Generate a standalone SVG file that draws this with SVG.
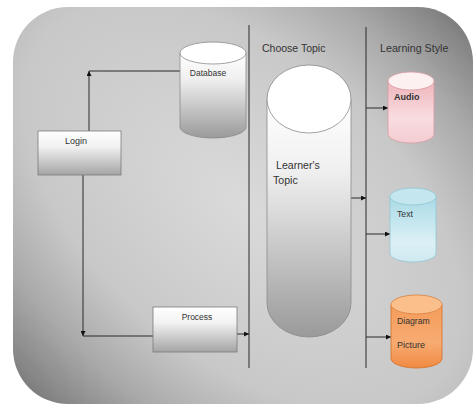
<svg xmlns="http://www.w3.org/2000/svg" width="475" height="406" viewBox="0 0 475 406">
  <defs>
    <radialGradient id="bg" gradientUnits="userSpaceOnUse" cx="0" cy="0" r="1" gradientTransform="translate(243 205) rotate(41) scale(520 300)">
      <stop offset="0" stop-color="#dadada"/>
      <stop offset="0.5" stop-color="#c8c8c8"/>
      <stop offset="0.72" stop-color="#a9a9a9"/>
      <stop offset="0.9" stop-color="#858585"/>
      <stop offset="1" stop-color="#6c6c6c"/>
    </radialGradient>
    <linearGradient id="box" x1="0" y1="0" x2="0" y2="1">
      <stop offset="0" stop-color="#ffffff"/>
      <stop offset="0.35" stop-color="#f2f2f2"/>
      <stop offset="1" stop-color="#a4a4a4"/>
    </linearGradient>
    <linearGradient id="gray" x1="0" y1="0" x2="0" y2="1">
      <stop offset="0" stop-color="#ffffff"/>
      <stop offset="0.3" stop-color="#f0f0f0"/>
      <stop offset="1" stop-color="#9a9a9a"/>
    </linearGradient>
    <linearGradient id="pink" x1="0" y1="0" x2="0" y2="1">
      <stop offset="0" stop-color="#eeb4bb"/>
      <stop offset="0.6" stop-color="#f8dde0"/>
      <stop offset="1" stop-color="#f3ccd0"/>
    </linearGradient>
    <linearGradient id="blue" x1="0" y1="0" x2="0" y2="1">
      <stop offset="0" stop-color="#a8dae6"/>
      <stop offset="0.7" stop-color="#dcf0f5"/>
      <stop offset="1" stop-color="#cfe9f0"/>
    </linearGradient>
    <linearGradient id="orange" x1="0" y1="0" x2="0" y2="1">
      <stop offset="0" stop-color="#f59c5a"/>
      <stop offset="0.6" stop-color="#f7ab72"/>
      <stop offset="1" stop-color="#f08a42"/>
    </linearGradient>
    <marker id="arr" viewBox="0 0 6 6" refX="6" refY="3" markerWidth="6" markerHeight="5" markerUnits="userSpaceOnUse" orient="auto">
      <path d="M0,0 L6,3 L0,6 Z" fill="#111"/>
    </marker>
    <style>
      .ln { stroke: #2a2a2a; stroke-width: 1; fill: none; }
      .head { font-family: "Liberation Sans", Arial, sans-serif; fill: #333; }
      .lbl { font-family: "Liberation Sans", Arial, sans-serif; fill: #333; }
      .boxs { stroke: #7a7a7a; stroke-width: 0.8; }
    </style>
  </defs>

  <rect x="13" y="7" width="460" height="397" rx="55" ry="55" fill="url(#bg)"/>

  <g id="headings">
    <text class="head" x="262" y="52" font-size="10.5">Choose Topic</text>
    <text class="head" x="380" y="52" font-size="10.7">Learning Style</text>
  </g>

  <g id="connectors">
    <line class="ln" x1="249" y1="25" x2="249" y2="368"/>
    <line class="ln" x1="366" y1="27" x2="366" y2="368"/>
    <path class="ln" d="M89,131 V71" marker-end="url(#arr)"/>
    <path class="ln" d="M89,71 H180"/>
    <path class="ln" d="M83,175 V336" marker-end="url(#arr)"/>
    <path class="ln" d="M83,336 H153"/>
    <path class="ln" d="M237,334 H249" marker-end="url(#arr)"/>
    <path class="ln" d="M351,198 H366" marker-end="url(#arr)"/>
    <path class="ln" d="M366,108 H388" marker-end="url(#arr)"/>
    <path class="ln" d="M366,234 H390" marker-end="url(#arr)"/>
    <path class="ln" d="M366,337 H391" marker-end="url(#arr)"/>
  </g>

  <g id="database">
    <path d="M180,53 V127 A33,11 0 0 0 246,127 V53 Z" fill="url(#gray)" stroke="#8a8a8a" stroke-width="0.8"/>
    <ellipse cx="213" cy="53" rx="33" ry="11" fill="#ffffff" stroke="#8a8a8a" stroke-width="0.8"/>
    <text class="lbl" x="208" y="76" font-size="8.5" text-anchor="middle">Database</text>
  </g>

  <g id="login">
    <rect x="38" y="131" width="83" height="44" fill="url(#box)" class="boxs"/>
    <text class="lbl" x="76" y="144" font-size="9" text-anchor="middle">Login</text>
  </g>

  <g id="process">
    <rect x="153" y="307" width="84" height="45" fill="url(#box)" class="boxs"/>
    <text class="lbl" x="197" y="320" font-size="8.5" text-anchor="middle">Process</text>
  </g>

  <g id="learners-topic">
    <path d="M267,99 V303 A42,34 0 0 0 351,303 V99 Z" fill="url(#gray)" stroke="#8a8a8a" stroke-width="0.8"/>
    <ellipse cx="309" cy="99" rx="42" ry="34" fill="#ffffff" stroke="#8a8a8a" stroke-width="0.8"/>
    <text class="lbl" x="276" y="169" font-size="10.6">Learner's</text>
    <text class="lbl" x="273" y="184" font-size="10.6">Topic</text>
  </g>

  <g id="audio">
    <path d="M388,81 V134 A23,9 0 0 0 434,134 V81 Z" fill="url(#pink)" stroke="#d99aa2" stroke-width="0.8"/>
    <ellipse cx="411" cy="81" rx="23" ry="9" fill="#fdf0f1" stroke="#d99aa2" stroke-width="0.8"/>
    <text class="lbl" x="394" y="100" font-size="9" font-weight="bold" fill="#3a3a3a">Audio</text>
  </g>

  <g id="text">
    <path d="M390,196.5 V253.5 A23,8.5 0 0 0 436,253.5 V196.5 Z" fill="url(#blue)" stroke="#8fc6d4" stroke-width="0.8"/>
    <ellipse cx="413" cy="196.5" rx="23" ry="8.5" fill="#c4e6ee" stroke="#8fc6d4" stroke-width="0.8"/>
    <text class="lbl" x="397" y="217" font-size="8.7">Text</text>
  </g>

  <g id="diagram-picture">
    <path d="M391,304.5 V358.5 A25.5,9.5 0 0 0 442,358.5 V304.5 Z" fill="url(#orange)" stroke="#d06e28" stroke-width="0.8"/>
    <ellipse cx="416.5" cy="304.5" rx="25.5" ry="9.5" fill="#fbbf8c" stroke="#d9803e" stroke-width="0.8"/>
    <text class="lbl" x="397" y="324" font-size="8.7">Diagram</text>
    <text class="lbl" x="397" y="348" font-size="9">Picture</text>
  </g>
</svg>
